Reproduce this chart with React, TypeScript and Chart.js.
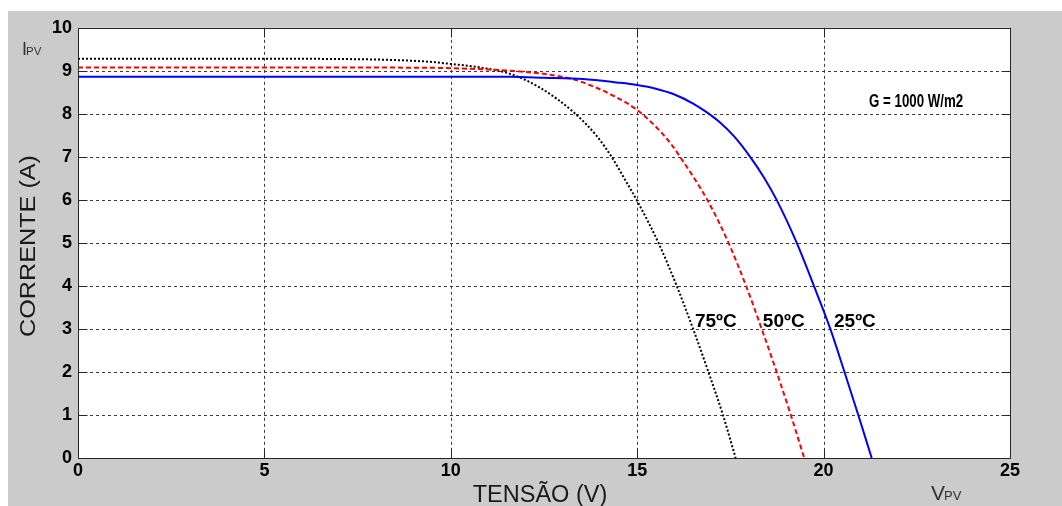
import React, { useEffect, useRef } from "react";
import { Chart, registerables } from "chart.js";

Chart.register(...registerables);

// ---- data ----
const xTicks = [0, 5, 10, 15, 20, 25];
const yTicks = [0, 1, 2, 3, 4, 5, 6, 7, 8, 9, 10];

const v25 = [0, 5, 10, 11.6, 12.5, 13.55, 14.45, 15.0, 15.5, 16.0, 16.5, 16.86, 17.2, 17.6, 18.03, 18.4, 18.74, 19.28, 19.74, 20.18, 20.56, 20.93, 21.29];
const i25 = [8.86, 8.86, 8.86, 8.86, 8.84, 8.81, 8.73, 8.67, 8.585, 8.45, 8.24, 8.04, 7.815, 7.475, 7.0, 6.52, 6.0, 5.0, 4.0, 3.0, 2.0, 1.0, 0];

const v50 = [0, 5, 9.44, 11.0, 11.77, 12.66, 13.3, 13.55, 14.27, 15.0, 15.5, 15.88, 16.15, 16.88, 17.45, 17.92, 18.34, 18.74, 19.12, 19.48];
const i50 = [9.08, 9.08, 9.07, 9.03, 8.99, 8.91, 8.8, 8.73, 8.46, 8.09, 7.7, 7.33, 7.0, 6.0, 5.0, 4.0, 3.0, 2.0, 1.0, 0];

const v75 = [0, 5, 7.5, 8.5, 9.44, 10, 10.78, 11.59, 12.39, 13.29, 13.91, 14.32, 14.72, 15.04, 15.57, 16.06, 16.5, 16.91, 17.3, 17.64];
const i75 = [9.28, 9.28, 9.27, 9.25, 9.21, 9.16, 9.08, 8.93, 8.61, 8.04, 7.49, 6.99, 6.4, 5.91, 5.0, 4.0, 3.0, 2.0, 1.0, 0];

const seriesNames = ["25ºC", "50ºC", "75ºC"];
const labelV = [20.28, 18.37, 16.55];
const labelI = [3.04, 3.04, 3.04];

const irradianceText = "G = 1000 W/m2";
const irradianceV = 21.22;
const irradianceI = 8.17;

const xTitle = "TENSÃO (V)";
const yTitle = "CORRENTE (A)";

const toPoints = (vs: number[], is: number[]) => vs.map((v, k) => ({ x: v, y: is[k] }));

const decorPlugin = {
  id: "decor",
  beforeDraw(chart: any) {
    const { ctx, chartArea: a, width, height } = chart;
    ctx.save();
    ctx.fillStyle = "#cbcbcb";
    ctx.fillRect(0, 0, width, height);
    ctx.fillStyle = "#ffffff";
    ctx.fillRect(a.left, a.top, a.right - a.left, a.bottom - a.top);
    ctx.restore();
  },
  beforeDatasetsDraw(chart: any) {
    const { ctx, chartArea: a, scales } = chart;
    const xs = scales.x, ys = scales.y;
    ctx.save();
    ctx.strokeStyle = "#3a3a3a";
    ctx.lineWidth = 1;
    ctx.setLineDash([3, 3]);
    xTicks.forEach((t) => {
      const px = Math.round(xs.getPixelForValue(t)) + 0.5;
      ctx.beginPath();
      ctx.moveTo(px, a.top);
      ctx.lineTo(px, a.bottom);
      ctx.stroke();
    });
    yTicks.forEach((t) => {
      const py = Math.round(ys.getPixelForValue(t)) + 0.5;
      ctx.beginPath();
      ctx.moveTo(a.left, py);
      ctx.lineTo(a.right, py);
      ctx.stroke();
    });
    ctx.restore();
  },
  afterDatasetsDraw(chart: any) {
    const { ctx, chartArea: a, scales } = chart;
    const xs = scales.x, ys = scales.y;
    ctx.save();
    // frame
    ctx.setLineDash([]);
    ctx.strokeStyle = "#262626";
    ctx.lineWidth = 1;
    const L = Math.round(a.left) + 0.5, R = Math.round(a.right) + 0.5;
    const T = Math.round(a.top) + 0.5, B = Math.round(a.bottom) + 0.5;
    ctx.strokeRect(L, T, R - L, B - T);
    // inner ticks
    const tl = 9;
    ctx.beginPath();
    xTicks.forEach((t) => {
      const px = Math.round(xs.getPixelForValue(t)) + 0.5;
      ctx.moveTo(px, B); ctx.lineTo(px, B - tl);
      ctx.moveTo(px, T); ctx.lineTo(px, T + tl);
    });
    yTicks.forEach((t) => {
      const py = Math.round(ys.getPixelForValue(t)) + 0.5;
      ctx.moveTo(L, py); ctx.lineTo(L + tl, py);
      ctx.moveTo(R, py); ctx.lineTo(R - tl, py);
    });
    ctx.stroke();

    // curve labels
    ctx.fillStyle = "#000";
    ctx.font = "bold 19px 'Liberation Sans', Arial, sans-serif";
    ctx.textAlign = "left";
    ctx.textBaseline = "alphabetic";
    seriesNames.forEach((n, k) => {
      ctx.fillText(n, xs.getPixelForValue(labelV[k]), ys.getPixelForValue(labelI[k]));
    });

    // irradiance label (condensed)
    ctx.save();
    ctx.font = "bold 18px 'Liberation Sans', Arial, sans-serif";
    const gw = ctx.measureText(irradianceText).width;
    ctx.translate(xs.getPixelForValue(irradianceV), ys.getPixelForValue(irradianceI));
    ctx.scale(94 / gw, 1);
    ctx.fillText(irradianceText, 0, 0);
    ctx.restore();

    // axis titles
    ctx.fillStyle = "#1a1a1a";
    ctx.font = "23.5px 'Liberation Sans', Arial, sans-serif";
    ctx.textAlign = "center";
    ctx.fillText(xTitle, (a.left + a.right) / 2 - 4, 491);

    ctx.save();
    ctx.font = "22px 'Liberation Sans', Arial, sans-serif";
    const yw = ctx.measureText(yTitle).width;
    ctx.translate(27, 235);
    ctx.rotate(-Math.PI / 2);
    ctx.scale(182 / yw, 1);
    ctx.textAlign = "center";
    ctx.fillText(yTitle, 0, 0);
    ctx.restore();

    // I_PV and V_PV
    ctx.fillStyle = "#333";
    ctx.textAlign = "left";
    ctx.font = "18px 'Liberation Sans', Arial, sans-serif";
    ctx.fillText("I", 14, 44);
    ctx.font = "11.5px 'Liberation Sans', Arial, sans-serif";
    ctx.fillText("PV", 18, 44);
    ctx.font = "21px 'Liberation Sans', Arial, sans-serif";
    ctx.fillText("V", 923, 489);
    ctx.font = "13px 'Liberation Sans', Arial, sans-serif";
    ctx.fillText("PV", 936, 489);
    ctx.restore();
  },
};

export default function App() {
  const ref = useRef<HTMLCanvasElement | null>(null);

  useEffect(() => {
    document.body.style.margin = "0";
    const canvas = ref.current;
    if (!canvas) return;
    const tickFont = { family: "'Liberation Sans', Arial, sans-serif", size: 18, weight: "bold" as const };
    const chart = new Chart(canvas, {
      type: "line",
      data: {
        datasets: [
          {
            label: seriesNames[0],
            data: toPoints(v25, i25),
            borderColor: "#0000ff",
            borderWidth: 2,
            pointRadius: 0,
            cubicInterpolationMode: "monotone",
          },
          {
            label: seriesNames[1],
            data: toPoints(v50, i50),
            borderColor: "#ff0000",
            borderWidth: 2,
            borderDash: [5, 3],
            pointRadius: 0,
            cubicInterpolationMode: "monotone",
          },
          {
            label: seriesNames[2],
            data: toPoints(v75, i75),
            borderColor: "#000000",
            borderWidth: 2,
            borderDash: [2, 2],
            pointRadius: 0,
            cubicInterpolationMode: "monotone",
          },
        ],
      },
      options: {
        responsive: false,
        animation: false,
        devicePixelRatio: 1,
        layout: { padding: { top: 16, right: 52, bottom: 0, left: 0 } },
        plugins: { legend: { display: false }, tooltip: { enabled: false }, title: { display: false } },
        scales: {
          x: {
            type: "linear",
            min: 0,
            max: 25,
            grid: { display: false, drawTicks: false, tickLength: 0 },
            border: { display: false },
            ticks: {
              stepSize: 5,
              color: "#000",
              font: tickFont,
              padding: 2,
              maxRotation: 0,
              callback: (v: any) => (xTicks.includes(Number(v)) ? String(v) : ""),
            },
            afterFit: (s: any) => {
              s.height = 48;
            },
          },
          y: {
            type: "linear",
            min: 0,
            max: 10,
            grid: { display: false, drawTicks: false, tickLength: 0 },
            border: { display: false },
            ticks: {
              stepSize: 1,
              color: "#000",
              font: tickFont,
              padding: 6,
              callback: (v: any) => (yTicks.includes(Number(v)) ? String(v) : ""),
            },
            afterFit: (s: any) => {
              s.width = 70;
            },
          },
        },
      },
      plugins: [decorPlugin],
    });
    return () => chart.destroy();
  }, []);

  return (
    <div style={{ paddingLeft: 8, paddingTop: 11 }}>
      <canvas ref={ref} width={1054} height={495} style={{ display: "block" }} />
    </div>
  );
}
